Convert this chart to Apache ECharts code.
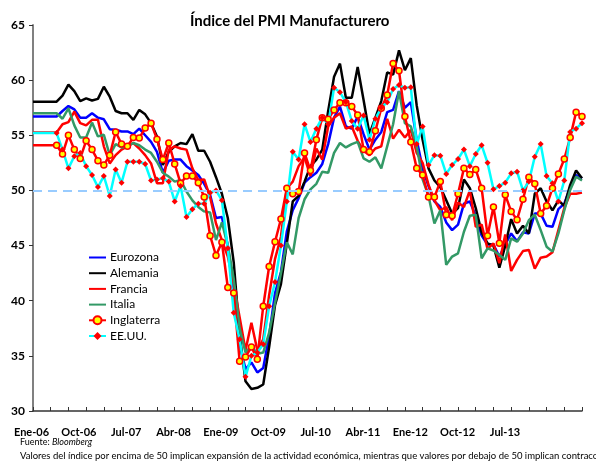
<!DOCTYPE html>
<html><head><meta charset="utf-8">
<script src="https://cdn.jsdelivr.net/npm/echarts@6/dist/echarts.min.js"></script>
<style>html,body{margin:0;padding:0;background:#fff}#c{width:596px;height:461px}</style>
</head><body><div id="c"></div>
<script>
// Monthly points: Dec-2005 .. Sep-2013 (first 4 points are the flat lead-in drawn without markers)
const monthNames=['Ene','Feb','Mar','Abr','May','Jun','Jul','Ago','Sep','Oct','Nov','Dic'];
const months=[];
for(let i=0;i<94;i++){const m=(11+i)%12, y=2005+Math.floor((11+i)/12);months.push(monthNames[m]+'-'+String(y).slice(2));}
const leadIn=4;

const xTickLabels=['Ene-06','Oct-06','Jul-07','Abr-08','Ene-09','Oct-09','Jul-10','Abr-11','Ene-12','Oct-12','Jul-13'];

const eurozona=[56.7,56.7,56.7,56.7,56.7,57.2,57.65,57.35,56.6,56.6,57.0,56.6,56.45,55.55,55.5,55.35,55.35,55.1,55.6,55.0,54.4,53.5,
51.6,52.7,52.8,52.8,52.2,51.8,51.4,50.6,49.6,47.5,47.6,45.0,41.0,36.0,33.8,34.4,33.5,33.9,36.8,40.7,42.6,46.3,48.2,49.3,50.7,51.2,
51.6,52.4,54.2,56.6,57.6,55.8,55.6,56.7,55.1,53.7,54.6,55.3,57.1,57.3,59.0,57.5,58.0,54.6,52.0,50.4,49.0,48.5,47.1,46.4,46.9,48.8,49.0,47.7,45.9,45.1,45.1,44.0,45.1,46.1,45.4,46.2,46.1,47.9,47.9,46.8,46.7,48.3,48.8,50.3,51.4,51.1];

const alemania=[58.05,58.05,58.05,58.05,58.05,58.6,59.6,59.0,58.1,58.35,58.15,58.3,59.4,58.5,57.2,57.0,57.0,56.4,57.3,56.9,
56.1,54.9,52.3,53.5,54.0,54.3,54.2,55.1,53.6,53.6,52.6,51.2,49.7,47.5,43.5,37.0,32.7,32.0,32.1,32.4,
35.8,39.6,41.5,45.2,49.0,49.5,50.8,52.2,52.8,53.7,57.2,60.3,61.5,58.4,58.4,61.2,58.2,55.1,56.6,58.1,
60.7,60.5,62.7,60.9,62.0,57.7,54.6,52.0,50.9,50.3,49.1,47.9,48.4,51.0,50.2,48.4,46.2,45.2,45.0,43.0,
45.0,47.4,46.1,46.8,46.1,49.7,50.2,49.0,48.2,49.1,48.6,50.5,51.8,51.1];

const francia=[55.25,55.25,55.25,55.25,55.25,56.0,56.2,57.15,56.1,55.9,56.4,56.4,54.0,52.45,53.2,53.7,54.0,54.3,53.8,53.2,52.45,50.65,50.65,
53.7,54.0,53.8,53.7,52.0,50.95,51.0,
49.4,47.0,45.5,44.0,41.5,38.5,35.5,38.0,35.5,36.5,40.5,43.8,45.8,50.2,
50.8,52.2,53.0,51.3,53.8,52.8,55.8,56.6,57.0,55.6,55.8,54.5,53.6,53.2,53.8,54.0,56.5,54.7,55.5,54.8,55.5,53.4,52.5,50.5,49.1,48.2,48.5,47.3,48.9,
48.5,50.0,46.7,46.9,44.7,45.2,43.4,46.0,42.7,43.7,44.5,44.6,42.9,43.9,44.0,44.4,46.4,48.4,49.7,49.7,49.8];

const italia=[57.0,57.0,57.0,57.0,57.0,56.5,57.45,55.9,54.8,54.8,56.15,54.9,55.05,53.2,54.2,53.9,54.0,54.3,54.1,53.7,53.4,52.6,51.6,51.25,50.8,50.95,49.9,49.1,48.5,48.1,48.0,45.5,47.1,45.0,
42.0,37.5,35.3,35.9,35.2,35.3,37.1,39.8,42.5,45.3,44.2,47.5,49.2,50.1,
50.6,51.7,51.6,53.4,54.3,53.9,54.2,54.4,52.9,52.6,53.0,52.0,54.0,56.0,59.0,56.1,55.8,54.0,51.0,49.5,47.0,48.2,
43.25,44.0,44.3,46.25,47.7,47.8,43.85,44.75,44.55,44.15,43.7,45.65,45.35,46.1,47.3,47.8,46.4,44.9,44.45,46.1,48.2,50.05,51.25,50.9];

const inglaterra=[54.1,54.1,54.1,54.1,
54.1,53.3,55.0,53.7,52.9,54.5,53.7,52.7,52.3,53.2,55.3,54.2,54.0,54.8,54.75,55.65,56.1,54.65,52.8,54.3,52.4,50.65,
51.3,51.3,50.7,49.4,45.9,44.1,45.3,41.2,40.7,34.5,34.9,35.8,34.7,39.5,43.1,45.35,47.4,50.2,49.7,49.9,
53.4,51.8,54.6,56.6,56.45,57.3,57.95,57.95,57.6,56.85,53.7,53.5,55.4,57.45,58.65,61.5,60.85,56.7,54.4,52.0,51.4,49.4,49.4,50.8,47.8,47.7,49.7,52.0,51.45,51.9,50.2,45.9,48.5,45.2,49.6,48.1,47.35,49.2,51.2,50.6,47.9,48.6,50.2,51.5,52.85,54.8,57.1,56.7];

const eeuu=[55.2,55.2,55.2,55.2,
55.2,53.7,52.0,53.1,53.4,52.2,51.4,50.3,51.3,49.5,51.9,50.7,52.6,52.6,52.6,52.4,50.9,51.0,51.1,50.8,49.0,50.4,47.6,48.3,48.8,48.8,49.8,50.0,49.1,44.75,38.9,36.5,33.1,35.0,35.3,36.05,39.5,41.7,45.0,49.0,53.5,52.8,56.0,54.4,55.6,
56.6,56.0,59.3,58.9,58.0,56.3,55.6,56.8,54.6,56.5,57.5,58.0,59.2,59.55,59.3,59.35,54.2,55.8,52.3,53.2,53.15,51.5,52.3,52.85,53.7,52.2,53.3,54.1,52.5,50.1,50.4,50.7,51.55,51.7,50.0,50.8,53.05,54.2,51.3,50.65,49.0,50.9,55.3,55.6,56.1];

const FONT='Lato, "Open Sans", sans-serif';
const NARROW='"Liberation Sans Narrow", Lato, sans-serif';

function withLeadIn(arr){return arr.map((v,i)=>i<leadIn?{value:v,symbol:'none'}:v);}
function plain(name,arr,color){
  return {name,type:'line',data:arr,symbol:'none',lineStyle:{color,width:2.5},itemStyle:{color},
    xAxisIndex:0,yAxisIndex:0,emphasis:{disabled:true}};
}

const chart=echarts.init(document.getElementById('c'),null,{renderer:'canvas'});
chart.setOption({
  animation:false,
  backgroundColor:'#ffffff',
  title:{text:'Índice del PMI Manufacturero',left:190,top:14,padding:0,
    textStyle:{fontFamily:FONT,fontWeight:'bold',fontSize:15,color:'#000'}},
  legend:{orient:'vertical',left:83,top:246.5,itemWidth:17,itemHeight:10,itemGap:3.7,
    textStyle:{fontFamily:FONT,fontSize:12,color:'#000',lineHeight:12,padding:[0,0,0,-1]},
    data:[
      {name:'Eurozona',itemStyle:{opacity:0}},
      {name:'Alemania',itemStyle:{opacity:0}},
      {name:'Francia',itemStyle:{opacity:0}},
      {name:'Italia',itemStyle:{opacity:0}},
      {name:'Inglaterra'},
      {name:'EE.UU.'}
    ]},
  grid:[{left:33,right:14,top:25,bottom:50},{left:31.5,right:91,top:25,bottom:50}],
  xAxis:[
    {type:'category',gridIndex:0,data:months,boundaryGap:false,
      axisLine:{lineStyle:{color:'#333',width:1.5}},
      axisTick:{show:true,inside:true,length:4,interval:2,lineStyle:{color:'#333',width:1}},
      axisLabel:{show:false},splitLine:{show:false}},
    {type:'category',gridIndex:1,data:xTickLabels,boundaryGap:false,
      axisLine:{show:false},axisTick:{show:false},splitLine:{show:false},
      axisLabel:{interval:0,margin:16,fontFamily:NARROW,fontWeight:'bold',fontSize:11,color:'#000'}}
  ],
  yAxis:[
    {type:'value',gridIndex:0,min:30,max:65,interval:5,
      axisLine:{show:true,lineStyle:{color:'#808080',width:2}},
      axisTick:{show:true,length:4,lineStyle:{color:'#333',width:1}},
      axisLabel:{margin:8,fontFamily:FONT,fontWeight:'bold',fontSize:12,color:'#000'},
      splitLine:{show:false}},
    {type:'value',gridIndex:1,min:30,max:65,show:false}
  ],
  graphic:[
    {type:'text',left:20,top:438,style:{text:'{a|Fuente: }{b|Bloomberg}',
      rich:{a:{fontFamily:FONT,fontSize:9,fill:'#000'},b:{fontFamily:FONT,fontSize:9,fontStyle:'italic',fill:'#000'}}}},
    {type:'text',left:20,top:451,style:{text:'Valores del índice por encima de 50 implican expansión de la actividad económica, mientras que valores por debajo de 50 implican contracción',
      font:'9.5px '+FONT,fill:'#000'}}
  ],
  series:[
    Object.assign(plain('Eurozona',eurozona,'#0000FF'),{markLine:{silent:true,symbol:['none','none'],label:{show:false},
      lineStyle:{color:'#99CCFF',type:[9,6],width:2},data:[{yAxis:50}]}}),
    plain('Alemania',alemania,'#000000'),
    plain('Francia',francia,'#FF0000'),
    plain('Italia',italia,'#339966'),
    {name:'Inglaterra',type:'line',data:withLeadIn(inglaterra),symbol:'circle',symbolSize:6,showAllSymbol:true,
      lineStyle:{color:'#FF0000',width:2.5},itemStyle:{color:'#FFFF00',borderColor:'#FF0000',borderWidth:1.5},emphasis:{disabled:true}},
    {name:'EE.UU.',type:'line',data:withLeadIn(eeuu),symbol:'diamond',symbolSize:6,showAllSymbol:true,
      lineStyle:{color:'#00FFFF',width:2.5},itemStyle:{color:'#FF0000'},emphasis:{disabled:true}}
  ]
});
</script></body></html>
